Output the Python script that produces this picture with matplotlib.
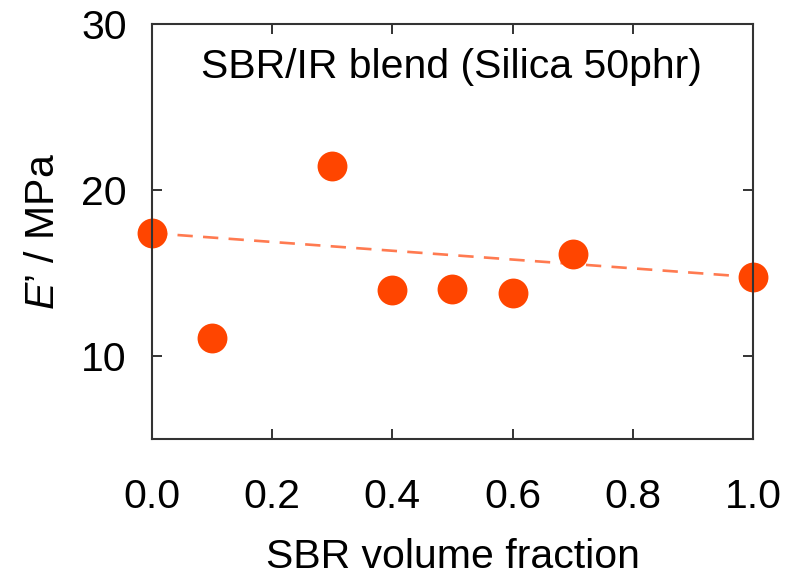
import matplotlib
matplotlib.use('Agg')
import matplotlib.pyplot as plt

# SBR volume fraction vs storage modulus E'
sbr_fraction = [0.0, 0.1, 0.3, 0.4, 0.5, 0.6, 0.7, 1.0]
modulus = [17.4, 11.1, 21.45, 14.0, 14.05, 13.8, 16.15, 14.75]

# additivity line between the pure components
mix_x = [0.0, 1.0]
mix_y = [17.4, 14.75]

x_ticks = [0.0, 0.2, 0.4, 0.6, 0.8, 1.0]
y_ticks = [10, 20, 30]

plt.rcParams['font.family'] = ['Liberation Sans', 'DejaVu Sans']
plt.rcParams['mathtext.fontset'] = 'custom'
plt.rcParams['mathtext.it'] = 'Liberation Sans:italic'
plt.rcParams['mathtext.rm'] = 'Liberation Sans'

fig = plt.figure(figsize=(7.85, 5.77), dpi=100)
ax = fig.add_axes([0.1936, 0.2392, 0.7656, 0.7192])

ax.plot(mix_x, mix_y, color='#FF7A50', lw=1.9,
        linestyle=(0, (5.8, 3.9)), zorder=1)
ax.plot(sbr_fraction, modulus, 'o', color='#FF4500', markersize=21.5,
        markeredgewidth=0, clip_on=False, zorder=2)

ax.set_xlim(0, 1.0)
ax.set_ylim(5, 30)
ax.set_xticks(x_ticks)
ax.set_yticks(y_ticks)
ax.set_xticklabels(['%.1f' % v for v in x_ticks])
ax.tick_params(direction='in', length=7, width=1.4, color='#333333',
               labelsize=29.5, top=True, right=True)
ax.tick_params(axis='x', pad=28)
ax.tick_params(axis='y', pad=18)
for s in ax.spines.values():
    s.set_linewidth(1.5)
    s.set_color('#333333')
    s.set_zorder(3)

ax.text(0.498, 0.87, 'SBR/IR blend (Silica 50phr)', transform=ax.transAxes,
        ha='center', va='baseline', fontsize=29.5)
ax.set_xlabel('SBR volume fraction', fontsize=29.5, labelpad=16)
ax.set_ylabel(r'$\mathit{E}$' + '\u2019 / MPa', fontsize=29.5, labelpad=14)

fig.savefig('out.png', dpi=100)
